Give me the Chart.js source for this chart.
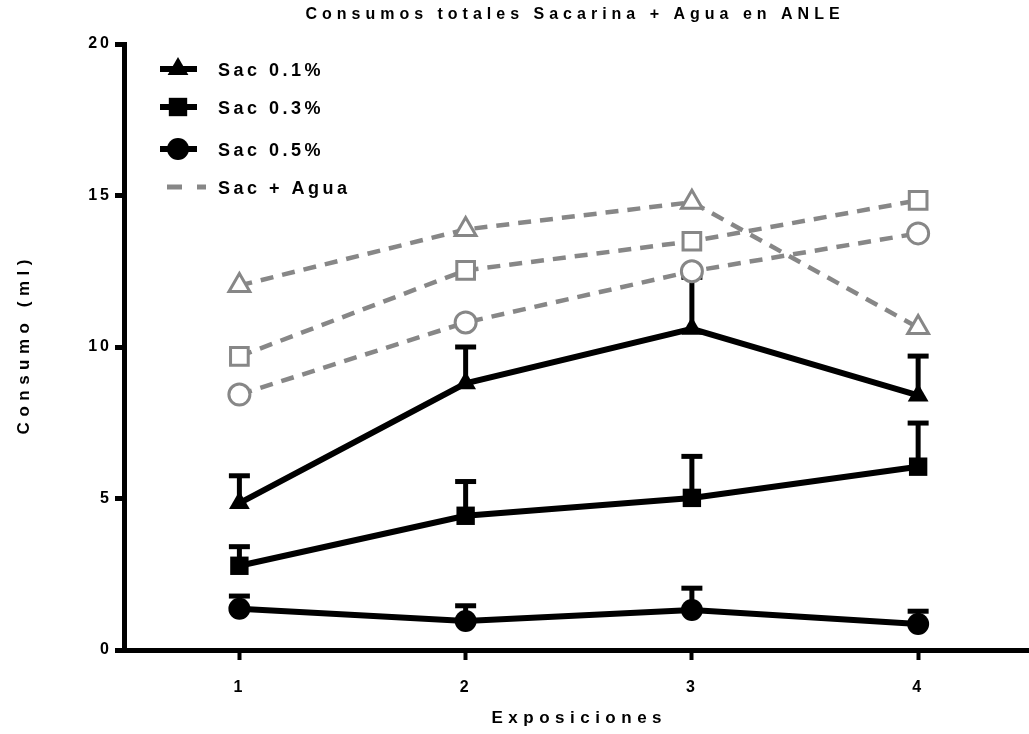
<!DOCTYPE html>
<html>
<head>
<meta charset="utf-8">
<script src="https://cdn.jsdelivr.net/npm/chart.js@4.4.0/dist/chart.umd.min.js"></script>
<style>
  html, body { margin: 0; padding: 0; background: #fff; overflow: hidden; }
  canvas { display: block; }
</style>
</head>
<body>
<canvas id="grafico" width="1029" height="734"></canvas>
<script>
// datos
const exposiciones = [1, 2, 3, 4];
const ticksX = [1, 2, 3, 4];
const ticksY = [0, 5, 10, 15, 20];

// medias (negro) y error hacia arriba
const sac01 = [4.85, 8.8, 10.6, 8.4];
const sac01Err = [0.9, 1.2, 1.7, 1.3];
const sac03 = [2.78, 4.43, 5.02, 6.05];
const sac03Err = [0.63, 1.13, 1.37, 1.44];
const sac05 = [1.36, 0.96, 1.32, 0.86];
const sac05Err = [0.42, 0.5, 0.72, 0.42];

// Sac + Agua (gris, discontinuo)
const total01 = [12.03, 13.88, 14.78, 10.64];
const total03 = [9.69, 12.53, 13.49, 14.84];
const total05 = [8.43, 10.81, 12.5, 13.75];

const etiquetas = ['Sac 0.1%', 'Sac 0.3%', 'Sac 0.5%', 'Sac + Agua'];
const titulo = 'Consumos totales Sacarina + Agua en ANLE';
const tituloX = 'Exposiciones';
const tituloY = 'Consumo (ml)';

const FUENTE = '"Liberation Sans", Arial, Helvetica, sans-serif';
const GRIS = '#878787';

const puntos = vals => exposiciones.map((x, i) => ({ x, y: vals[i] }));

const serieNegra = (vals, err, estilo, radio) => ({
    data: puntos(vals),
    errores: err,
    borderColor: '#000',
    borderWidth: 6,
    pointStyle: estilo,
    pointRadius: radio,
    pointHoverRadius: radio,
    pointBackgroundColor: '#000',
    pointBorderColor: '#000',
    pointBorderWidth: 0,
    tension: 0,
    order: 2
});

const serieGris = (vals, estilo, radio) => ({
    data: puntos(vals),
    borderColor: GRIS,
    borderWidth: 4.5,
    borderDash: [13, 9],
    pointStyle: estilo,
    pointRadius: radio,
    pointHoverRadius: radio,
    pointBackgroundColor: '#fff',
    pointBorderColor: GRIS,
    pointBorderWidth: 3,
    tension: 0,
    order: 1
});

function escribir(ctx, s, x, y, size, espacio, centrado) {
    ctx.font = 'bold ' + size + 'px ' + FUENTE;
    ctx.letterSpacing = espacio + 'px';
    ctx.textBaseline = 'middle';
    ctx.textAlign = 'left';
    let x0 = x;
    if (centrado) x0 = x - (ctx.measureText(s).width - espacio) / 2;
    ctx.fillText(s, x0, y);
}

const barrasError = {
    id: 'barrasError',
    beforeDraw(chart) {
        chart.ctx.letterSpacing = '3px';
    },
    beforeDatasetsDraw(chart) {
        const { ctx, scales: { x, y } } = chart;
        ctx.save();
        ctx.strokeStyle = '#000';
        ctx.lineWidth = 5;
        chart.data.datasets.forEach(ds => {
            if (!ds.errores) return;
            ds.data.forEach((p, i) => {
                const px = x.getPixelForValue(p.x);
                const y0 = y.getPixelForValue(p.y);
                const y1 = y.getPixelForValue(p.y + ds.errores[i]);
                ctx.beginPath();
                ctx.moveTo(px, y0);
                ctx.lineTo(px, y1);
                ctx.stroke();
                ctx.beginPath();
                ctx.moveTo(px - 10.5, y1);
                ctx.lineTo(px + 10.5, y1);
                ctx.stroke();
            });
        });
        ctx.restore();
    }
};

const textos = {
    id: 'textos',
    afterDraw(chart) {
        const { ctx, chartArea } = chart;
        const cx = (chartArea.left + chartArea.right) / 2;
        const cy = (chartArea.top + chartArea.bottom) / 2;
        ctx.save();
        ctx.fillStyle = '#000';
        escribir(ctx, titulo, cx - 4, 15, 16, 5, true);
        escribir(ctx, tituloX, cx, 718, 17, 5.5, true);
        ctx.translate(24, cy);
        ctx.rotate(-Math.PI / 2);
        escribir(ctx, tituloY, 0, 0, 17, 5.5, true);
        ctx.restore();

        // leyenda
        const filas = [69, 107, 149, 187];
        const series = chart.data.datasets;
        ctx.save();
        etiquetas.forEach((txt, i) => {
            const yy = filas[i];
            if (i < 3) {
                const ds = series[i];
                ctx.strokeStyle = '#000';
                ctx.lineWidth = 6;
                ctx.setLineDash([]);
                ctx.beginPath();
                ctx.moveTo(160, yy);
                ctx.lineTo(197, yy);
                ctx.stroke();
                ctx.fillStyle = '#000';
                Chart.helpers.drawPoint(ctx, {
                    pointStyle: ds.pointStyle,
                    radius: ds.pointRadius,
                    borderWidth: 0,
                    rotation: 0
                }, 178, yy);
            } else {
                ctx.strokeStyle = GRIS;
                ctx.lineWidth = 5;
                ctx.setLineDash([15, 15]);
                ctx.beginPath();
                ctx.moveTo(167, yy);
                ctx.lineTo(206, yy);
                ctx.stroke();
                ctx.setLineDash([]);
            }
            ctx.fillStyle = '#000';
            escribir(ctx, txt, 218, yy + 2, 18, 3.5, false);
        });
        ctx.restore();
    }
};

const fuenteTicks = { family: FUENTE, size: 16, weight: 'bold' };

new Chart(document.getElementById('grafico'), {
    type: 'line',
    data: {
        datasets: [
            serieNegra(sac01, sac01Err, 'triangle', 12),
            serieNegra(sac03, sac03Err, 'rect', 13),
            serieNegra(sac05, sac05Err, 'circle', 11),
            serieGris(total01, 'triangle', 12),
            serieGris(total03, 'rect', 12.5),
            serieGris(total05, 'circle', 10.5)
        ]
    },
    options: {
        responsive: false,
        animation: false,
        devicePixelRatio: 1,
        layout: { autoPadding: false, padding: { top: 44, right: 0, left: 0, bottom: 0 } },
        plugins: {
            legend: { display: false },
            title: { display: false },
            tooltip: { enabled: false }
        },
        scales: {
            x: {
                type: 'linear',
                min: 0.49,
                max: 4.49,
                afterBuildTicks: s => { s.ticks = ticksX.map(v => ({ value: v })); },
                afterFit: s => { s.height = 84; },
                grid: { drawOnChartArea: false, drawTicks: true, tickLength: 10, tickWidth: 4, color: '#000' },
                border: { width: 5, color: '#000' },
                ticks: {
                    color: '#000',
                    font: { family: FUENTE, size: 16, weight: 'bold', lineHeight: '56px' },
                    padding: 0,
                    maxRotation: 0
                }
            },
            y: {
                min: 0,
                max: 20,
                afterBuildTicks: s => { s.ticks = ticksY.map(v => ({ value: v })); },
                afterFit: s => { s.width = 124; },
                grid: { drawOnChartArea: false, drawTicks: true, tickLength: 9, tickWidth: 5, color: '#000' },
                border: { width: 5, color: '#000' },
                ticks: { color: '#000', font: fuenteTicks, padding: 3 }
            }
        }
    },
    plugins: [barrasError, textos]
});
</script>
</body>
</html>
